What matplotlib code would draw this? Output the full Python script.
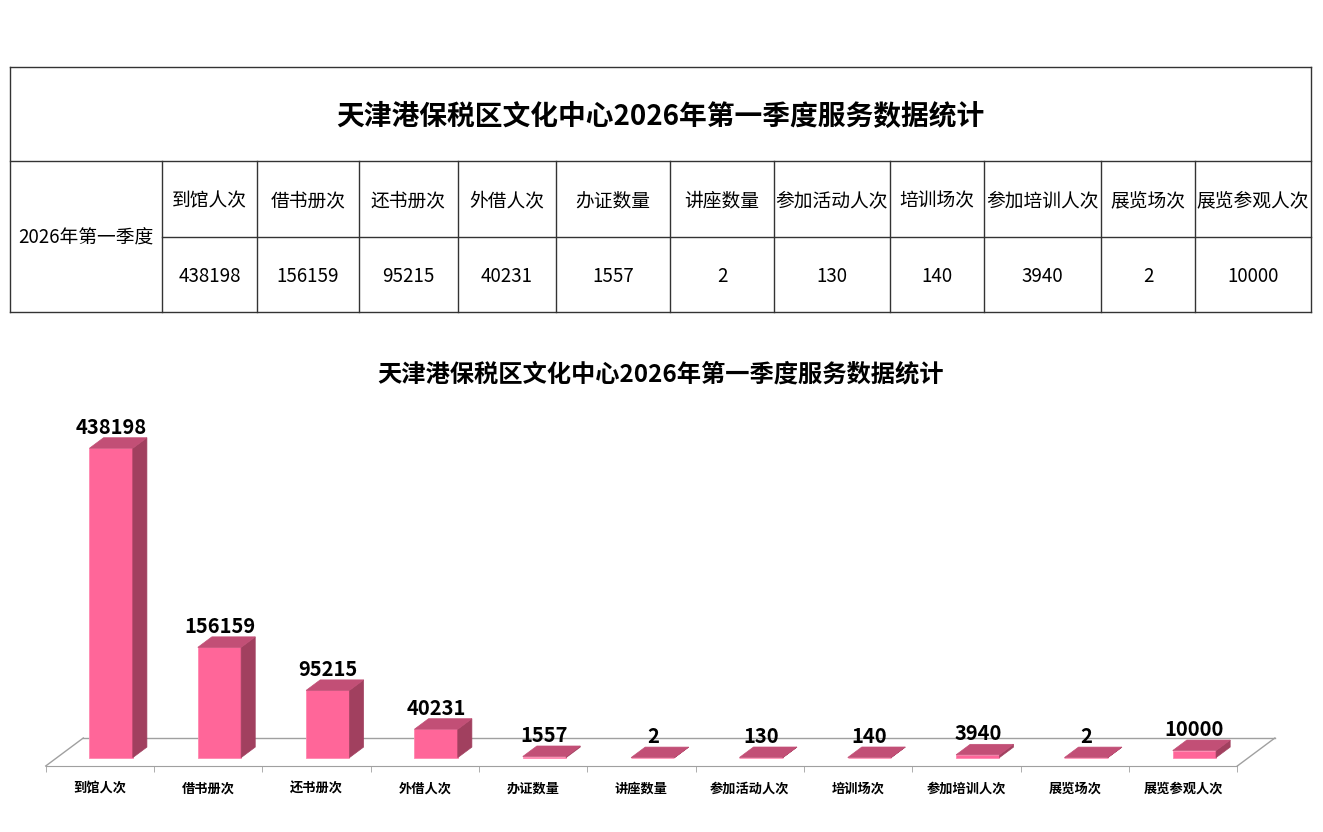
import matplotlib
matplotlib.use("Agg")
import matplotlib.pyplot as plt
from matplotlib.patches import Polygon

plt.rcParams['font.family'] = ['Noto Sans CJK SC', 'DejaVu Sans']

title = "天津港保税区文化中心2026年第一季度服务数据统计"
period = "2026年第一季度"
categories = ["到馆人次", "借书册次", "还书册次", "外借人次", "办证数量", "讲座数量",
              "参加活动人次", "培训场次", "参加培训人次", "展览场次", "展览参观人次"]
values = [438198, 156159, 95215, 40231, 1557, 2, 130, 140, 3940, 2, 10000]

W, H = 1323, 832
fig = plt.figure(figsize=(W / 100, H / 100), dpi=100)

# ---- table at the top (pixel layout) ----
axt = fig.add_axes([0, 0, 1, 1])
axt.set_xlim(0, W)
axt.set_ylim(H, 0)
axt.axis('off')

col_x = [10, 162, 257, 359, 458, 556, 670, 774, 890, 984, 1101, 1195, 1311]
row_y = [67, 161, 237, 312]
lc = '#333333'
axt.plot([col_x[0], col_x[-1]], [row_y[0], row_y[0]], color=lc, lw=1)
axt.plot([col_x[0], col_x[-1]], [row_y[1], row_y[1]], color=lc, lw=1)
axt.plot([col_x[1], col_x[-1]], [row_y[2], row_y[2]], color=lc, lw=1)
axt.plot([col_x[0], col_x[-1]], [row_y[3], row_y[3]], color=lc, lw=1)
axt.plot([col_x[0], col_x[0]], [row_y[0], row_y[3]], color=lc, lw=1)
axt.plot([col_x[-1], col_x[-1]], [row_y[0], row_y[3]], color=lc, lw=1)
for x in col_x[1:-1]:
    axt.plot([x, x], [row_y[1], row_y[3]], color=lc, lw=1)

axt.text((col_x[0] + col_x[-1]) / 2, (row_y[0] + row_y[1]) / 2 + 3, title,
         ha='center', va='center', fontsize=20, fontweight='bold')
axt.text((col_x[0] + col_x[1]) / 2, row_y[2] + 1.5, period,
         ha='center', va='center', fontsize=13.5)
for i, (name, v) in enumerate(zip(categories, values)):
    cx = (col_x[i + 1] + col_x[i + 2]) / 2
    axt.text(cx, (row_y[1] + row_y[2]) / 2 + 1.5, name, ha='center', va='center', fontsize=13.5)
    axt.text(cx, (row_y[2] + row_y[3]) / 2 + 2, str(v), ha='center', va='center', fontsize=13.5)

fig.text(661 / W, 1 - 374 / H, title, ha='center', va='center',
         fontsize=17.5, fontweight='bold')

# ---- 3D-looking column chart ----
ymax = 500000
ax = fig.add_axes([45.7 / W, 66 / H, 1191.6 / W, 353 / H])
ax.set_xlim(-0.5, len(categories) - 0.5)
ax.set_ylim(0, ymax)
for s in ['top', 'right', 'left']:
    ax.spines[s].set_visible(False)
ax.spines['bottom'].set_color('#a0a0a0')
ax.set_yticks([])
ax.set_xticks(range(len(categories)))
ax.set_xticklabels(categories, fontsize=9.5, fontweight='bold')
ax.tick_params(axis='x', which='major', length=0, pad=11)
ax.set_xticks([k - 0.5 for k in range(len(categories) + 1)], minor=True)
ax.tick_params(axis='x', which='minor', length=4, color='#a0a0a0', direction='out')
ax.patch.set_alpha(0)

DX = 0.347            # floor depth in category units
DY = 39660            # floor depth in value units
F0, F1 = 0.30, 0.675  # bar front/back depth fraction
BW = 0.40

n = len(categories)
floor = dict(color='#a0a0a0', lw=1, zorder=1, clip_on=False)
ax.plot([-0.5 + DX, n - 0.5 + DX], [DY, DY], **floor)
ax.plot([-0.5, -0.5 + DX], [0, DY], **floor)
ax.plot([n - 0.5, n - 0.5 + DX], [0, DY], **floor)

front_c, side_c, top_c = '#FF6699', '#A1405F', '#C24F76'
for i, v in enumerate(values):
    xl = i - BW / 2 + F0 * DX
    xr = i + BW / 2 + F0 * DX
    y0 = F0 * DY
    ddx = (F1 - F0) * DX
    ddy = (F1 - F0) * DY
    ax.add_patch(Polygon([(xl, y0), (xr, y0), (xr, y0 + v), (xl, y0 + v)],
                         closed=True, facecolor=front_c, edgecolor='#ff88b0',
                         lw=0.6, zorder=2, clip_on=False))
    ax.add_patch(Polygon([(xr, y0), (xr + ddx, y0 + ddy), (xr + ddx, y0 + ddy + v), (xr, y0 + v)],
                         closed=True, facecolor=side_c, edgecolor=side_c,
                         lw=0.5, zorder=2, clip_on=False))
    ax.add_patch(Polygon([(xl, y0 + v), (xr, y0 + v), (xr + ddx, y0 + ddy + v), (xl + ddx, y0 + ddy + v)],
                         closed=True, facecolor=top_c, edgecolor=top_c,
                         lw=0.5, zorder=2, clip_on=False))
    ax.annotate(str(v), xy=(i + F0 * DX, v + F1 * DY), xytext=(0, 4),
                textcoords='offset pixels', ha='center', va='baseline',
                fontsize=14.5, fontweight='bold', zorder=5, annotation_clip=False)

fig.savefig('out.png', dpi=100)
